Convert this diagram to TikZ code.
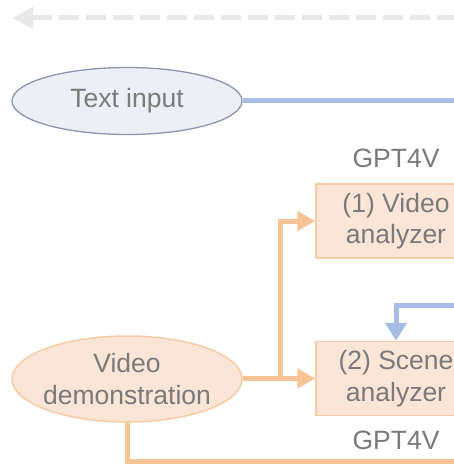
\documentclass[tikz,border=0pt]{standalone}
\usepackage{fontspec}
\setmainfont{Liberation Sans}
\usetikzlibrary{arrows.meta,shapes.geometric}
\definecolor{orline}{RGB}{247,196,150}
\definecolor{orfill}{RGB}{251,229,214}
\definecolor{ordraw}{RGB}{246,203,165}
\definecolor{blline}{RGB}{168,189,230}
\definecolor{txtgray}{RGB}{122,122,122}
\definecolor{tifill}{RGB}{236,239,245}
\definecolor{tidraw}{RGB}{140,148,175}
\definecolor{dashgray}{RGB}{232,232,232}
\tikzset{
  lbl/.style={text=txtgray, font=\fontsize{26.5}{31.5}\selectfont, align=center, inner sep=0pt},
  tiell/.style={ellipse, draw=tidraw, fill=tifill, line width=1.3pt, minimum width=230pt, minimum height=67pt, lbl, inner sep=-12pt},
  vdell/.style={ellipse, draw=ordraw, fill=orfill, line width=1.5pt, minimum width=230pt, minimum height=86pt, lbl, inner sep=-12pt},
  procbox/.style={rectangle, draw=ordraw, fill=orfill, line width=1.5pt, minimum width=160pt, minimum height=74pt, inner sep=0pt, lbl},
  orconn/.style={draw=orline, line width=5pt},
  blconn/.style={draw=blline, line width=5pt},
  ortip/.style={-{Triangle[length=18pt,width=19pt]}},
  bltip/.style={-{Triangle[length=18pt,width=21pt]}},
  dashconn/.style={draw=dashgray, line width=5pt, dash pattern=on 20pt off 7pt, {Triangle[length=20pt,width=21pt]}-}
}
\begin{document}
\begin{tikzpicture}[x=1pt,y=-1pt]
\useasboundingbox (0,0) rectangle (454,465);
\clip (0,0) rectangle (454,465);
\fill[white] (0,0) rectangle (454,465);

% top dashed feedback arrow
\coordinate (dtip) at (13,18);
\coordinate (dend) at (470,18);
\draw[dashconn] (dtip) -- (dend);

% nodes
\node[tiell] (ti) at (127,101) {Text input};
\node[vdell] (vd) at (127,379) {Video\\demonstration};
\node[procbox] (b1) at (396,221) {(1) Video\\analyzer};
\node[procbox] (b2) at (396,378.5) {(2) Scene\\analyzer};
\node[lbl] (g1) at (396,158) {GPT4V};
\node[lbl] (g2) at (396,440) {GPT4V};

% connectors
\coordinate (tiend) at (470,101);
\draw[blconn] (ti.east) -- (tiend);

\coordinate (blin) at (470,305);
\draw[blconn, bltip] (blin) -- (396,305) -- (b2.north);

\coordinate (jn) at (280,378.5);
\draw[orconn, ortip] (vd.east |- jn) -- (b2.west);
\draw[orconn, ortip] (jn) -- (280,221) -- (b1.west);

\coordinate (botend) at (470,461);
\draw[orconn] (vd.south) -- (127,461) -- (botend);
\end{tikzpicture}
\end{document}
